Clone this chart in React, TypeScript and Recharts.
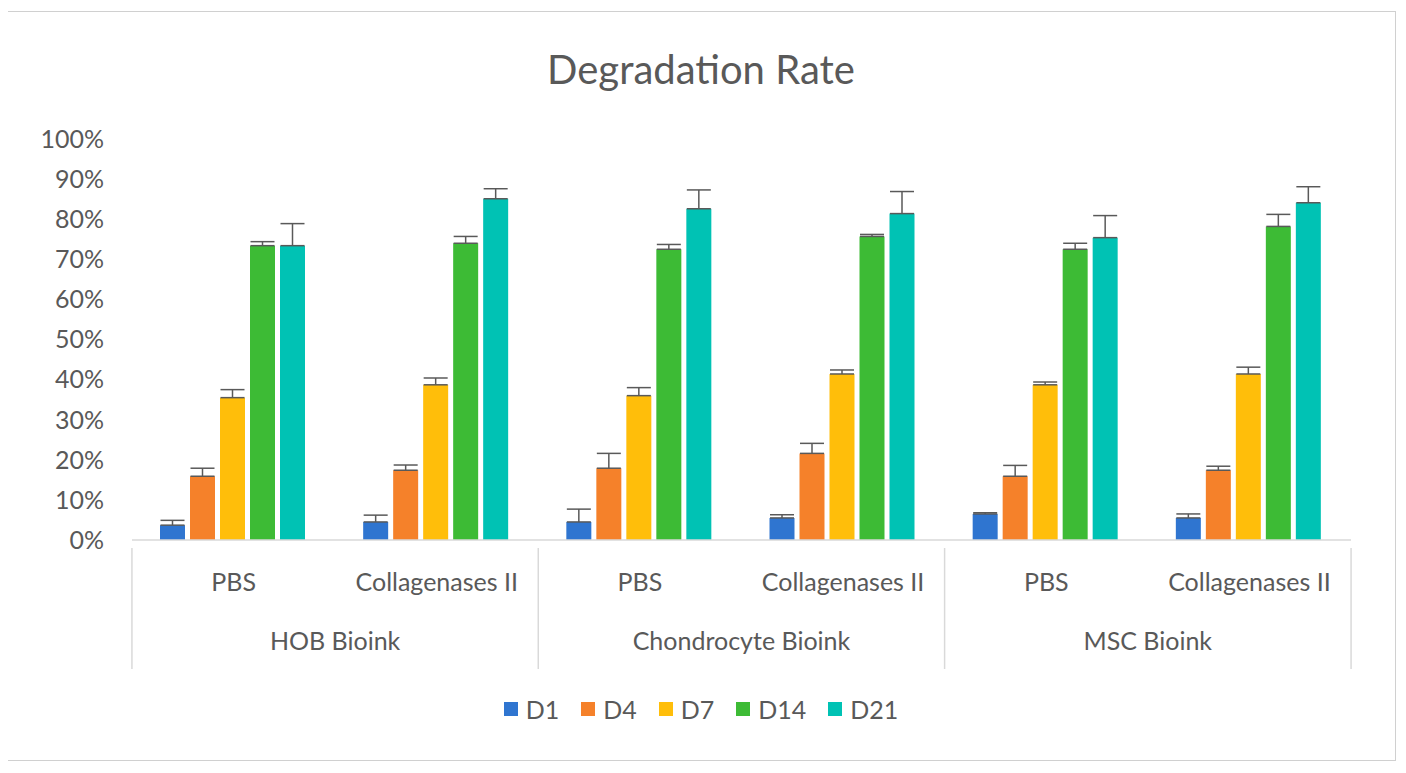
import { BarChart, Bar, XAxis, YAxis, ErrorBar } from "recharts";

const groups = ["HOB Bioink", "HOB Bioink", "Chondrocyte Bioink", "Chondrocyte Bioink", "MSC Bioink", "MSC Bioink"];
const treatments = ["PBS", "Collagenases II", "PBS", "Collagenases II", "PBS", "Collagenases II"];
const d1 = [3.7, 4.5, 4.5, 5.5, 6.5, 5.5];
const d4 = [15.9, 17.4, 17.9, 21.6, 15.9, 17.4];
const d7 = [35.5, 38.7, 36.0, 41.4, 38.7, 41.4];
const d14 = [73.4, 74.0, 72.5, 75.7, 72.5, 78.2];
const d21 = [73.4, 85.1, 82.6, 81.4, 75.4, 84.1];
const e1 = [1.2, 1.7, 3.2, 0.8, 0.3, 1.0];
const e4 = [2.0, 1.3, 3.7, 2.5, 2.7, 1.0];
const e7 = [2.0, 1.7, 2.0, 1.0, 0.7, 1.7];
const e14 = [1.0, 1.7, 1.2, 0.5, 1.5, 3.0];
const e21 = [5.5, 2.5, 4.7, 5.5, 5.5, 4.0];
const yTicks = [0, 10, 20, 30, 40, 50, 60, 70, 80, 90, 100];

const series = [
  { key: "D1", vals: d1, errs: e1, color: "#2F75D0" },
  { key: "D4", vals: d4, errs: e4, color: "#F5812A" },
  { key: "D7", vals: d7, errs: e7, color: "#FFBE0A" },
  { key: "D14", vals: d14, errs: e14, color: "#3DBB35" },
  { key: "D21", vals: d21, errs: e21, color: "#00C2B4" },
];

const data = treatments.map((t, i) => {
  const row: any = { treat: t, grp: groups[i], idx: i };
  series.forEach((s) => {
    row[s.key] = s.vals[i];
    row[s.key + "e"] = [0, s.errs[i]];
  });
  return row;
});

const font = "Lato, 'Open Sans', sans-serif";
const band = 203.3;

function CatTick(props: any) {
  const { x, y, payload, index } = props;
  return (
    <g>
      <text x={x} y={y + 43} textAnchor="middle" fontSize={25} fill="#595959" fontFamily={font}>
        {payload.value}
      </text>
      {index % 2 === 1 && (
        <text x={x - band / 2} y={y + 102} textAnchor="middle" fontSize={25} fill="#595959" fontFamily={font}>
          {groups[index]}
        </text>
      )}
      {index % 2 === 0 && (
        <line x1={x - band / 2} x2={x - band / 2} y1={y} y2={y + 121} stroke="#d9d9d9" strokeWidth={1.5} />
      )}
      {index === 5 && (
        <line x1={x + band / 2} x2={x + band / 2} y1={y} y2={y + 121} stroke="#d9d9d9" strokeWidth={1.5} />
      )}
    </g>
  );
}

export default function App() {
  return (
    <div
      style={{
        position: "relative",
        width: 1388,
        height: 748,
        border: "1.5px solid #d0d0d0",
        marginLeft: -2,
        marginTop: 3,
        background: "#fff",
        fontFamily: font,
      }}
    >
      <div style={{ position: "absolute", top: 33, width: "100%", textAlign: "center", fontSize: 40, color: "#595959" }}>
        Degradation Rate
      </div>
      <BarChart
        width={1388}
        height={748}
        data={data}
        margin={{ top: 127, right: 44, left: 0, bottom: 90 }}
        barCategoryGap={28}
        barGap={5}
      >
        <YAxis
          width={125}
          domain={[0, 100]}
          ticks={yTicks}
          tickFormatter={(v) => v + "%"}
          axisLine={false}
          tickLine={false}
          tick={{ fontSize: 25, fill: "#595959", fontFamily: font }}
          tickMargin={22}
        />
        <XAxis
          dataKey="treat"
          height={130}
          interval={0}
          tickLine={false}
          axisLine={{ stroke: "#d9d9d9", strokeWidth: 1.5 }}
          tick={<CatTick />}
        />
        {series.map((s) => (
          <Bar key={s.key} dataKey={s.key} fill={s.color} isAnimationActive={false}>
            <ErrorBar dataKey={s.key + "e"} direction="y" width={12} stroke="#595959" strokeWidth={1.5} />
          </Bar>
        ))}
      </BarChart>
      <div
        style={{
          position: "absolute",
          top: 682,
          width: "100%",
          display: "flex",
          justifyContent: "center",
          gap: 22,
          fontSize: 25,
          color: "#595959",
        }}
      >
        {series.map((s) => (
          <span key={s.key} style={{ display: "flex", alignItems: "center", gap: 8 }}>
            <span style={{ width: 14, height: 14, background: s.color, display: "inline-block" }} />
            {s.key}
          </span>
        ))}
      </div>
    </div>
  );
}
